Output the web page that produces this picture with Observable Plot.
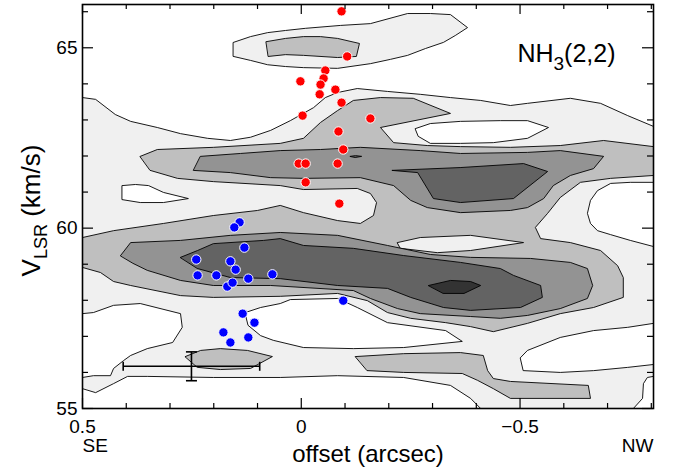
<!DOCTYPE html>
<html><head><meta charset="utf-8">
<script src="https://cdn.jsdelivr.net/npm/d3@7"></script>
<script src="https://cdn.jsdelivr.net/npm/@observablehq/plot@0.6"></script>
<style>body{margin:0;background:#fff}</style>
</head><body><div id="chart"></div><script>
// ---- contour polygons: [offset (arcsec), V_LSR (km/s)] ----
const lvl1Main = [[0.5,63.62],[0.47,63.57],[0.425,63.15],[0.39,62.96],[0.329,62.79],[0.276,62.62],[0.214,62.49],[0.162,62.43],[0.116,62.52],[0.07,62.71],[0.025,62.98],[-0.028,63.34],[-0.055,63.62],[-0.083,63.76],[-0.128,63.87],[-0.197,63.79],[-0.272,63.71],[-0.341,63.62],[-0.41,63.54],[-0.478,63.40],[-0.517,63.46],[-0.615,63.60],[-0.684,63.46],[-0.746,63.12],[-0.805,62.82],[-0.805,55],[0.5,55]];
const lvl1TopIsland = [[0.155,65.15],[0.116,65.31],[0.077,65.42],[0.036,65.48],[-0.01,65.54],[-0.09,65.62],[-0.158,65.67],[-0.243,65.95],[-0.295,65.95],[-0.341,65.92],[-0.38,65.56],[-0.352,65.34],[-0.325,65.15],[-0.284,64.98],[-0.243,64.79],[-0.204,64.68],[-0.158,64.56],[-0.083,64.43],[-0.005,64.45],[0.036,64.48],[0.077,64.53],[0.116,64.65],[0.155,64.76]];
const hole1 = [[0.409,61.18],[0.379,61.21],[0.349,61.18],[0.315,60.99],[0.258,60.82],[0.315,60.71],[0.368,60.71],[0.409,60.79]];
const hole2 = [[-0.261,62.76],[-0.295,62.90],[-0.364,62.96],[-0.455,62.98],[-0.517,62.98],[-0.565,62.79],[-0.517,62.49],[-0.439,62.37],[-0.364,62.35],[-0.295,62.35],[-0.268,62.54]];
const hole3 = [[-0.805,61.27],[-0.752,61.27],[-0.707,61.24],[-0.677,61.04],[-0.661,60.77],[-0.654,60.41],[-0.661,60.13],[-0.677,59.93],[-0.707,59.82],[-0.752,59.66],[-0.805,59.49]];
const hole4 = [[0.5,57.63],[0.475,57.66],[0.429,57.86],[0.368,57.91],[0.276,57.63],[0.272,57.25],[0.294,56.83],[0.352,56.66],[0.39,56.47],[0.406,56.33],[0.429,56.11],[0.436,55.91],[0.475,55.91],[0.5,55.86]];
const hole5 = [[0.128,57.66],[0.093,57.80],[0.048,57.91],[0.025,58.02],[-0.083,58.05],[-0.128,57.80],[-0.197,57.38],[-0.33,57.16],[-0.368,56.86],[-0.234,56.69],[-0.119,56.66],[-0.005,56.69],[0.064,56.89],[0.093,57.02],[0.121,57.30]];
const hole6 = [[0.5,55.55],[0.47,55.44],[0.429,55.69],[0.397,55.89],[0.352,55.89],[0.201,55.86],[0.048,55.86],[-0.083,55.91],[-0.234,55.86],[-0.341,55.64],[-0.387,55.28],[-0.41,55],[0.5,55]];
const hole7 = [[-0.501,56.41],[-0.517,56.61],[-0.592,56.97],[-0.668,57.16],[-0.746,57.25],[-0.805,57.36],[-0.805,56.22],[-0.746,56.14],[-0.668,56.05],[-0.592,56.00],[-0.508,56.05]];
const hole8 = [[-0.805,55.89],[-0.791,55.86],[-0.782,55.69],[-0.78,55.28],[-0.759,55],[-0.805,55]];
const lvl2TopIsland = [[0.08,65.17],[0.036,65.26],[-0.005,65.31],[-0.044,65.31],[-0.083,65.26],[-0.133,65.12],[-0.126,64.76],[-0.083,64.73],[-0.005,64.79],[0.036,64.81],[0.075,64.76]];
const lvl2Main = [[0.368,61.99],[0.329,62.18],[0.201,62.24],[0.048,62.35],[-0.005,62.49],[-0.044,62.93],[-0.083,63.26],[-0.119,63.54],[-0.181,63.62],[-0.256,63.60],[-0.341,63.18],[-0.181,62.79],[-0.211,62.37],[-0.288,62.29],[-0.364,62.26],[-0.478,62.24],[-0.592,62.29],[-0.691,62.43],[-0.805,62.26],[-0.805,61.46],[-0.707,61.38],[-0.638,61.27],[-0.592,60.85],[-0.563,60.41],[-0.535,60.02],[-0.547,59.71],[-0.615,59.60],[-0.684,59.38],[-0.723,58.96],[-0.736,58.63],[-0.736,58.08],[-0.668,57.80],[-0.592,57.63],[-0.517,57.36],[-0.439,57.13],[-0.387,57.27],[-0.33,57.38],[-0.25,57.50],[-0.197,57.66],[-0.151,57.99],[-0.083,58.19],[0.048,58.11],[0.201,58.08],[0.276,58.13],[0.39,58.41],[0.429,58.52],[0.459,58.77],[0.5,58.91],[0.5,59.74],[0.429,59.93],[0.315,60.13],[0.201,60.35],[0.1,60.49],[0.048,60.63],[-0.005,60.43],[-0.083,60.21],[-0.135,60.13],[-0.165,60.35],[-0.172,60.71],[-0.158,60.96],[-0.128,61.10],[-0.005,61.07],[0.048,61.18],[0.201,61.29],[0.283,61.38],[0.345,61.60]];
const lvl2BottomIsland = [[0.265,56.44],[0.23,56.61],[0.185,56.66],[0.123,56.61],[0.066,56.44],[0.116,56.11],[0.185,56.08],[0.237,56.14]];
const lvl2BottomStrip = [[-0.124,56.44],[-0.234,56.52],[-0.364,56.55],[-0.416,56.47],[-0.426,56.05],[-0.439,55.83],[-0.478,55.75],[-0.656,55.64],[-0.661,55.28],[-0.478,55.28],[-0.439,55.55],[-0.403,55.78],[-0.368,55.97],[-0.234,56.00],[-0.151,56.05]];
const lvl1Sliver = [[-0.22,59.60],[-0.272,59.74],[-0.387,59.80],[-0.508,59.60],[-0.387,59.38],[-0.311,59.32],[-0.227,59.44]];
const lvl3Upper = [[0.23,61.99],[0.139,62.07],[0.048,62.15],[-0.044,62.18],[-0.135,62.24],[-0.272,62.15],[-0.364,62.07],[-0.517,62.10],[-0.592,62.15],[-0.691,61.99],[-0.668,61.65],[-0.615,61.46],[-0.576,61.18],[-0.554,60.82],[-0.517,60.57],[-0.478,60.49],[-0.364,60.43],[-0.288,60.57],[-0.25,60.77],[-0.211,61.18],[-0.135,61.40],[-0.005,61.38],[0.07,61.40],[0.162,61.54],[0.246,61.60]];
const lvl3Lower = [[0.413,59.24],[0.39,59.60],[0.276,59.66],[0.162,59.80],[0.048,59.88],[-0.083,59.80],[-0.197,59.52],[-0.295,59.27],[-0.387,59.19],[-0.524,59.16],[-0.615,59.05],[-0.654,58.88],[-0.666,58.41],[-0.654,58.05],[-0.592,57.77],[-0.517,57.58],[-0.455,57.50],[-0.387,57.55],[-0.272,57.63],[-0.22,57.77],[-0.158,58.05],[-0.119,58.27],[0.07,58.41],[0.201,58.41],[0.276,58.55],[0.352,58.83],[0.384,59.02]];
const lvl4Upper = [[-0.208,61.60],[-0.266,61.54],[-0.302,60.82],[-0.364,60.71],[-0.485,60.82],[-0.563,61.57],[-0.508,61.79],[-0.364,61.68]];
const lvl4Speck = [[-0.112,61.99],[-0.124,62.01],[-0.138,61.99],[-0.124,61.96]];
const lvl4Lower = [[0.276,59.19],[0.237,59.38],[0.201,59.57],[0.086,59.66],[0.048,59.71],[-0.005,59.52],[-0.119,59.44],[-0.234,59.24],[-0.364,59.05],[-0.455,58.88],[-0.485,58.69],[-0.547,58.41],[-0.551,58.08],[-0.501,57.80],[-0.387,57.72],[-0.325,57.80],[-0.25,58.08],[-0.197,58.33],[-0.083,58.41],[0.048,58.60],[0.162,58.63],[0.237,58.88]];
const lvl5Core = [[-0.291,58.41],[-0.341,58.55],[-0.387,58.52],[-0.41,58.41],[-0.372,58.19],[-0.325,58.19]];

// ---- red-shifted and blue-shifted spots: [offset, V_LSR] ----
const redSpots = [[-0.092,66.01],[-0.105,64.76],[-0.055,64.37],[-0.051,64.15],[-0.044,63.98],[-0.042,63.71],[0.002,64.07],[-0.078,63.84],[-0.092,63.48],[-0.003,63.12],[-0.158,63.04],[-0.085,62.68],[-0.096,62.18],[0.006,61.79],[-0.01,61.79],[-0.083,61.79],[-0.01,61.27],[-0.087,60.68]];
const blueSpots = [[0.141,60.16],[0.153,60.02],[0.13,59.46],[0.24,59.13],[0.162,59.08],[0.15,58.85],[0.237,58.69],[0.194,58.69],[0.121,58.60],[0.066,58.72],[0.169,58.38],[0.157,58.49],[0.134,57.63],[0.107,57.38],[0.178,57.11],[0.162,56.83],[0.121,56.97],[-0.096,57.99]];

// ---- error bar (beam / resolution) ----
const errorBar = [{offset: 0.251, v: 56.17, xerr: 0.156, yerr: 0.40}];

// ---- ticks ----
const xMinorTicks = [0.5,0.4,0.3,0.2,0.1,0,-0.1,-0.2,-0.3,-0.4,-0.5,-0.6,-0.7,-0.8];
const xMajorTicks = [0.5,0,-0.5];
const yMinorTicks = [55,56,57,58,59,60,61,62,63,64,65,66];
const yMajorTicks = [55,60,65];

const xDomain = [0.5, -0.805], yDomain = [55, 66.2];
const W = 680, H = 475, mL = 82, mR = 27, mT = 4, mB = 67;
const innerW = W - mL - mR, innerH = H - mT - mB;

const c1 = "#f0f0f0", c2 = "#bfbfbf", c3 = "#939393", c4 = "#636363", c5 = "#333333", cW = "#ffffff";
const layers = [
  [lvl1Main, c1], [lvl1TopIsland, c1],
  [hole1, cW], [hole2, cW], [hole3, cW], [hole4, cW], [hole5, cW], [hole6, cW], [hole7, cW], [hole8, cW],
  [lvl2TopIsland, c2], [lvl2Main, c2], [lvl2BottomIsland, c2], [lvl2BottomStrip, c2],
  [lvl1Sliver, c1],
  [lvl3Upper, c3], [lvl3Lower, c3],
  [lvl4Upper, c4], [lvl4Lower, c4], [lvl4Speck, c4],
  [lvl5Core, c5]
];

const yPerPx = (yDomain[1] - yDomain[0]) / innerH;
const xPerPx = (xDomain[0] - xDomain[1]) / innerW;
const capV = 4.5 * yPerPx, capH = 5.5 * xPerPx;

const marks = [];
for (const [pts, fill] of layers) {
  marks.push(Plot.line(pts, {x: d => d[0], y: d => d[1], curve: "linear-closed", fill, stroke: "#000", strokeWidth: 0.9, clip: true}));
}
// error bar
marks.push(
  Plot.link(errorBar, {x1: d => d.offset - d.xerr, x2: d => d.offset + d.xerr, y1: d => d.v, y2: d => d.v, stroke: "#000", strokeWidth: 1.6}),
  Plot.link(errorBar, {x1: d => d.offset, x2: d => d.offset, y1: d => d.v - d.yerr, y2: d => d.v + d.yerr, stroke: "#000", strokeWidth: 1.6}),
  Plot.link(errorBar.flatMap(d => [d.offset - d.xerr, d.offset + d.xerr].map(x => ({x, v: d.v}))), {x1: "x", x2: "x", y1: d => d.v - capV, y2: d => d.v + capV, stroke: "#000", strokeWidth: 1.6}),
  Plot.link(errorBar.flatMap(d => [d.v - d.yerr, d.v + d.yerr].map(v => ({x: d.offset, v}))), {x1: d => d.x - capH, x2: d => d.x + capH, y1: "v", y2: "v", stroke: "#000", strokeWidth: 1.6})
);
// spots
marks.push(
  Plot.dot(redSpots, {x: d => d[0], y: d => d[1], r: 4.7, fill: "#ff0000", stroke: "#fff", strokeWidth: 1}),
  Plot.dot(blueSpots, {x: d => d[0], y: d => d[1], r: 4.7, fill: "#0000ff", stroke: "#fff", strokeWidth: 1})
);
// inward ticks
const minorX = xMinorTicks.filter(t => !xMajorTicks.includes(t));
const minorY = yMinorTicks.filter(t => !yMajorTicks.includes(t));
marks.push(
  Plot.tickX(minorX, {x: d => d, insetTop: innerH - 5, stroke: "#000", strokeWidth: 1.2}),
  Plot.tickX(minorX, {x: d => d, insetBottom: innerH - 5, stroke: "#000", strokeWidth: 1.2}),
  Plot.tickX(xMajorTicks, {x: d => d, insetTop: innerH - 10, stroke: "#000", strokeWidth: 1.2}),
  Plot.tickX(xMajorTicks, {x: d => d, insetBottom: innerH - 10, stroke: "#000", strokeWidth: 1.2}),
  Plot.tickY(minorY, {y: d => d, insetRight: innerW - 6, stroke: "#000", strokeWidth: 1.2}),
  Plot.tickY(minorY, {y: d => d, insetLeft: innerW - 6, stroke: "#000", strokeWidth: 1.2}),
  Plot.tickY(yMajorTicks, {y: d => d, insetRight: innerW - 11, stroke: "#000", strokeWidth: 1.2}),
  Plot.tickY(yMajorTicks, {y: d => d, insetLeft: innerW - 11, stroke: "#000", strokeWidth: 1.2})
);
// axes labels
const fmt = d => d < 0 ? "\u2212" + Math.abs(d) : String(d);
marks.push(
  Plot.axisX(xMajorTicks, {tickSize: 0, tickPadding: 11, tickFormat: fmt, fontSize: 19, label: null}),
  Plot.axisY(yMajorTicks, {tickSize: 0, tickPadding: 5, tickFormat: fmt, fontSize: 19, label: null}),
  Plot.text(["SE"], {frameAnchor: "bottom-left", dx: 0, dy: 43, textAnchor: "start", fontSize: 19}),
  Plot.text(["NW"], {frameAnchor: "bottom-right", dx: 0, dy: 43, textAnchor: "end", fontSize: 19}),
  Plot.text(["offset (arcsec)"], {frameAnchor: "bottom", dy: 53, fontSize: 24}),
  Plot.text(["VLSR (km/s)"], {frameAnchor: "left", dx: -51, dy: 4, rotate: -90, textAnchor: "middle", fontSize: 26}),
  Plot.text(["NH3(2,2)"], {frameAnchor: "top-right", dx: -38, dy: 40, textAnchor: "end", fontSize: 25}),
  Plot.frame({stroke: "#000", strokeWidth: 1.6})
);

const chart = Plot.plot({
  width: W, height: H,
  marginLeft: mL, marginRight: mR, marginTop: mT, marginBottom: mB,
  x: {domain: xDomain},
  y: {domain: yDomain},
  style: {fontFamily: "'Liberation Sans', Arial, sans-serif", background: "#fff", color: "#000"},
  marks
});

// subscripts in labels
d3.select(chart).selectAll("text").each(function () {
  const t = this.textContent;
  if (t === "NH3(2,2)") {
    const s = d3.select(this); s.text("");
    s.append("tspan").text("NH");
    s.append("tspan").attr("font-size", 19).attr("dy", 8).text("3");
    s.append("tspan").attr("dy", -8).text("(2,2)");
  } else if (t === "VLSR (km/s)") {
    const s = d3.select(this); s.text("");
    s.append("tspan").text("V");
    s.append("tspan").attr("font-size", 18).attr("dy", 7).text("LSR");
    s.append("tspan").attr("dy", -7).text(" (km/s)");
  }
});
document.getElementById("chart").appendChild(chart);
</script></body></html>
